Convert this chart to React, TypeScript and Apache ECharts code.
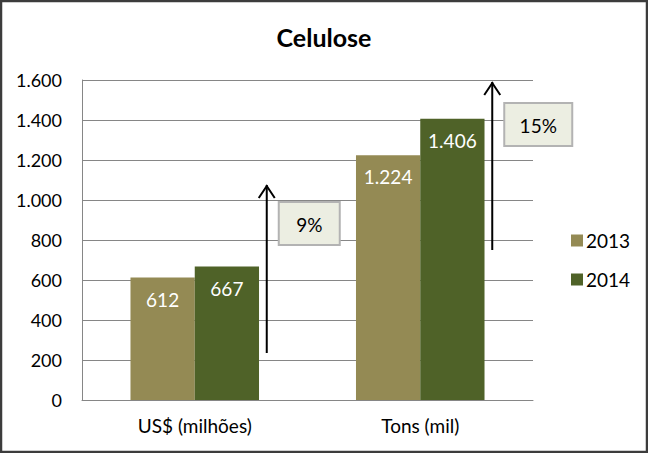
import React, { useEffect, useRef } from "react";
import * as echarts from "echarts";

const categories = ["US$ (milhões)", "Tons (mil)"];
const seriesNames = ["2013", "2014"];
const values2013 = [612, 1224];
const values2014 = [667, 1406];
const yTicks = [0, 200, 400, 600, 800, 1000, 1200, 1400, 1600];
// growth annotations: category index, arrow start/end values, box top value, text
const growthCats = [0, 1];
const growthFrom = [235, 750];
const growthTo = [1075, 1590];
const growthBoxTop = [990, 1485];
const growthLabels = ["9%", "15%"];

const FONT = "Lato, 'Open Sans', sans-serif";
const fmt = (v: number) => {
  const s = String(Math.round(v));
  return s.replace(/\B(?=(\d{3})+(?!\d))/g, ".");
};

export default function App() {
  const ref = useRef<HTMLDivElement>(null);
  useEffect(() => {
    document.body.style.margin = "0";
    const chart = echarts.init(ref.current!, null, { renderer: "svg" });
    const labelOpt = {
      show: true,
      position: "insideTop" as const,
      distance: 12,
      color: "#ffffff",
      fontSize: 19,
      fontFamily: FONT,
      formatter: (p: any) => fmt(p.value),
    };
    chart.setOption({
      animation: false,
      backgroundColor: "#ffffff",
      title: {
        text: "Celulose",
        left: "center",
        top: 19,
        textStyle: { fontFamily: FONT, fontSize: 25, fontWeight: "bold", color: "#000" },
      },
      grid: { left: 82, right: 115, top: 80, bottom: 53, containLabel: false },
      legend: {
        orient: "vertical",
        left: 566,
        top: 225,
        itemWidth: 12,
        itemHeight: 12,
        itemGap: 18,
        icon: "rect",
        textStyle: { fontFamily: FONT, fontSize: 19, color: "#000", lineHeight: 21, padding: [0, 0, 0, -2] },
        data: seriesNames,
      },
      xAxis: {
        type: "category",
        data: categories,
        axisLine: { show: true, lineStyle: { color: "#868686", width: 1 } },
        axisTick: { show: false },
        axisLabel: { fontFamily: FONT, fontSize: 19, color: "#000", margin: 16 },
      },
      yAxis: {
        type: "value",
        min: yTicks[0],
        max: yTicks[yTicks.length - 1],
        interval: 200,
        axisLine: { show: true, lineStyle: { color: "#868686", width: 1 } },
        axisTick: { show: false },
        splitLine: { lineStyle: { color: "#868686", width: 1 } },
        axisLabel: { fontFamily: FONT, fontSize: 18, color: "#000", margin: 20, formatter: (v: number) => fmt(v) },
      },
      series: [
        {
          name: seriesNames[0],
          type: "bar",
          data: values2013,
          barGap: "0%",
          barCategoryGap: "43%",
          itemStyle: { color: "#948A54" },
          label: labelOpt,
        },
        {
          name: seriesNames[1],
          type: "bar",
          data: values2014,
          barGap: "0%",
          barCategoryGap: "43%",
          itemStyle: { color: "#4F6228" },
          label: labelOpt,
        },
      ],
    });

    const elements: any[] = [
      {
        type: "rect",
        shape: { x: 1, y: 1, width: 646, height: 451 },
        style: { fill: "none", stroke: "#3c3c3c", lineWidth: 2.5 },
        silent: true,
      },
    ];
    growthCats.forEach((ci, i) => {
      const base = chart.convertToPixel({ gridIndex: 0 }, [ci, growthFrom[i]]) as number[];
      const top = chart.convertToPixel({ gridIndex: 0 }, [ci, growthTo[i]]) as number[];
      const boxT = chart.convertToPixel({ gridIndex: 0 }, [ci, growthBoxTop[i]]) as number[];
      const ax = base[0] + 72;
      elements.push({
        type: "line",
        shape: { x1: ax, y1: base[1], x2: ax, y2: top[1] },
        style: { stroke: "#000", lineWidth: 2 },
      });
      elements.push({
        type: "polyline",
        shape: { points: [[ax - 8, top[1] + 13], [ax, top[1] + 1], [ax + 8, top[1] + 13]] },
        style: { stroke: "#000", lineWidth: 2, fill: "none" },
      });
      const bw = growthLabels[i].length > 2 ? 68 : 61;
      const bx = ax + 12;
      elements.push({
        type: "rect",
        shape: { x: bx, y: boxT[1], width: bw, height: 43 },
        style: { fill: "#ECEEE2", stroke: "#B3B3B3", lineWidth: 2 },
      });
      elements.push({
        type: "text",
        x: bx + bw / 2,
        y: boxT[1] + 22,
        style: {
          text: growthLabels[i],
          fontFamily: FONT,
          fontSize: 19,
          fill: "#000",
          align: "center",
          verticalAlign: "middle",
        },
      });
    });
    chart.setOption({ graphic: { elements } });
    return () => chart.dispose();
  }, []);
  return <div ref={ref} style={{ width: 648, height: 453, position: "absolute", left: 0, top: 0 }} />;
}
